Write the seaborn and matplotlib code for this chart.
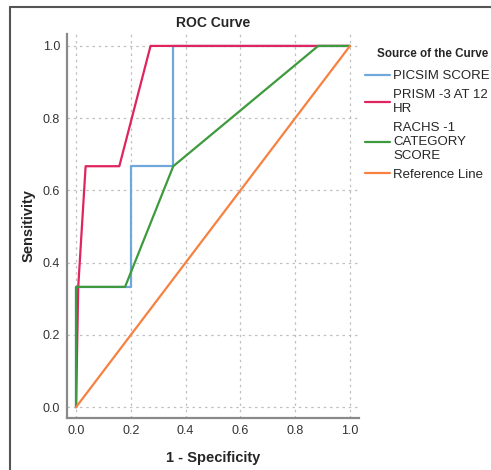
import pandas as pd
import matplotlib.pyplot as plt
import seaborn as sns
from matplotlib.lines import Line2D

# ROC curve points
picsim_x = [0.0, 0.0, 0.2, 0.2, 0.355, 0.355, 1.0]
picsim_y = [0.0, 0.333, 0.333, 0.667, 0.667, 1.0, 1.0]

prism_x = [0.0, 0.008, 0.035, 0.158, 0.272, 1.0]
prism_y = [0.0, 0.333, 0.667, 0.667, 1.0, 1.0]

rachs_x = [0.0, 0.0, 0.179, 0.355, 0.884, 1.0]
rachs_y = [0.0, 0.333, 0.333, 0.667, 1.0, 1.0]

ref_x = [0.0, 1.0]
ref_y = [0.0, 1.0]

names = ['PICSIM SCORE', 'PRISM -3 AT 12\nHR', 'RACHS -1\nCATEGORY\nSCORE', 'Reference Line']
colors = ['#6fa8dc', '#e0245e', '#3d9a3d', '#f7813f']

rows = []
for name, xs, ys in zip(names, [picsim_x, prism_x, rachs_x, ref_x], [picsim_y, prism_y, rachs_y, ref_y]):
    for k in range(len(xs)):
        rows.append({'fpr': xs[k], 'tpr': ys[k], 'curve': name, 'order': k})
df = pd.DataFrame(rows)

sns.set_style('white')
plt.rcParams['font.family'] = ['Liberation Sans', 'DejaVu Sans']

fig = plt.figure(figsize=(4.91, 4.70), dpi=100)
ax = fig.add_axes([67/491, 1-418/470, (359-67)/491, (418-34)/470])

sns.lineplot(data=df, x='fpr', y='tpr', hue='curve', hue_order=names,
             palette=dict(zip(names, colors)), sort=False, estimator=None,
             units='curve', linewidth=1.6, ax=ax)

ax.set_xlim(-0.033, 1.033)
ax.set_ylim(-0.030, 1.033)
ticks = [0.0, 0.2, 0.4, 0.6, 0.8, 1.0]
ax.set_xticks(ticks)
ax.set_yticks(ticks)
ax.set_xticklabels(['0.0', '0.2', '0.4', '0.6', '0.8', '1.0'])
ax.set_yticklabels(['0.0', '0.2', '0.4', '0.6', '0.8', '1.0'])
ax.tick_params(labelsize=9, colors='#333333', length=0, pad=5)
ax.grid(True, linestyle=(0, (2, 3)), color='#c0c0c0', linewidth=0.9)
for s in ['top', 'right']:
    ax.spines[s].set_visible(False)
for s in ['left', 'bottom']:
    ax.spines[s].set_color('#8a8a8a')
    ax.spines[s].set_linewidth(1.6)

ax.set_xlabel('1 - Specificity', fontsize=10.5, fontweight='bold', labelpad=10)
ax.set_ylabel('Sensitivity', fontsize=10.5, fontweight='bold', labelpad=5)
fig.text(213/491, 1-23/470, 'ROC Curve', fontsize=10, fontweight='bold', ha='center', va='center')

handles, labels = ax.get_legend_handles_labels()
ax.get_legend().remove()
fig.text(377/491, 1-54/470, 'Source of the Curve', fontsize=8.4, fontweight='bold', ha='left', va='center')
leg = fig.legend(handles, labels, loc='upper left', bbox_to_anchor=(365/491, 1-70/470),
                 frameon=False, fontsize=9.5, borderpad=0, borderaxespad=0,
                 handlelength=1.9, handletextpad=0.25, labelspacing=0.5)
for t in leg.get_texts():
    t.set_linespacing(1.25)

# outer frame
fig.add_artist(Line2D([10/491, 10/491], [0, 1-7/470], color='#555555', linewidth=1.5))
fig.add_artist(Line2D([10/491, 1], [1-7/470, 1-7/470], color='#555555', linewidth=1.5))

fig.savefig('out.png', dpi=100)
